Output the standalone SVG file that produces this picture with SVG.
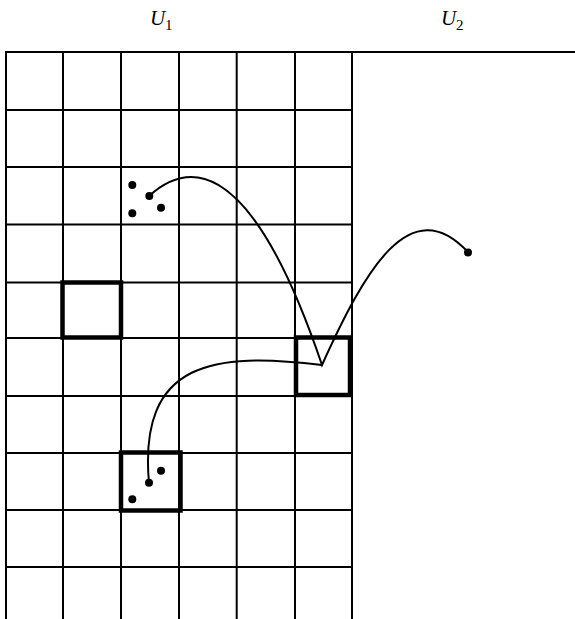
<svg xmlns="http://www.w3.org/2000/svg" width="575" height="619" viewBox="0 0 575 619">
<style>
.grid{stroke:#000;stroke-width:2;fill:none}
.box{stroke:#000;stroke-width:4.5;fill:none}
.conn{stroke:#000;stroke-width:2;fill:none;stroke-linejoin:miter}
.dot{fill:#000}
.lbl{font-family:"Liberation Serif",serif;font-size:21px;font-style:italic;fill:#000}
.sub{font-family:"Liberation Serif",serif;font-size:15px;fill:#000}
</style>
<rect width="575" height="619" fill="#fff"/>
<g id="labels">
<text class="lbl" x="150" y="25">U</text><text class="sub" x="165" y="30">1</text>
<text class="lbl" x="441" y="25">U</text><text class="sub" x="456" y="30">2</text>
</g>
<g id="grid" class="grid">
<line x1="5" y1="52" x2="575" y2="52"/>
<line x1="6" y1="110" x2="352" y2="110"/>
<line x1="6" y1="167" x2="352" y2="167"/>
<line x1="6" y1="224.5" x2="352" y2="224.5"/>
<line x1="6" y1="282.5" x2="352" y2="282.5"/>
<line x1="6" y1="338" x2="352" y2="338"/>
<line x1="6" y1="396" x2="352" y2="396"/>
<line x1="6" y1="453" x2="352" y2="453"/>
<line x1="6" y1="510" x2="352" y2="510"/>
<line x1="6" y1="567" x2="352" y2="567"/>
<line x1="6" y1="52" x2="6" y2="619"/>
<line x1="63" y1="52" x2="63" y2="619"/>
<line x1="121" y1="52" x2="121" y2="619"/>
<line x1="179" y1="52" x2="179" y2="619"/>
<line x1="236.7" y1="52" x2="236.7" y2="619"/>
<line x1="295" y1="52" x2="295" y2="619"/>
<line x1="352" y1="52" x2="352" y2="619"/>
</g>
<g id="boxA"><rect class="box" x="62.5" y="282.5" width="58.5" height="55"/></g>
<g id="boxB"><rect class="box" x="296" y="337.5" width="54" height="57.5"/></g>
<g id="boxC"><rect class="box" x="121" y="452.5" width="59.5" height="58"/></g>
<g id="connectors">
<path class="conn" d="M149,196 C180,168 245,138 322,365 C365,270 410,190 468,252"/>
<path class="conn" d="M149,483 C138,360 215,352 322,365"/>
</g>
<g id="dotsTop">
<circle class="dot" cx="132.3" cy="185" r="4"/>
<circle class="dot" cx="149.3" cy="196" r="4"/>
<circle class="dot" cx="132.3" cy="213.3" r="4"/>
<circle class="dot" cx="161" cy="207.7" r="4"/>
</g>
<g id="dotsBottom">
<circle class="dot" cx="161" cy="470.7" r="4"/>
<circle class="dot" cx="149" cy="482.7" r="4"/>
<circle class="dot" cx="132.3" cy="499.3" r="4"/>
</g>
<g id="dotRight"><circle class="dot" cx="468" cy="252.5" r="4"/></g>
</svg>
